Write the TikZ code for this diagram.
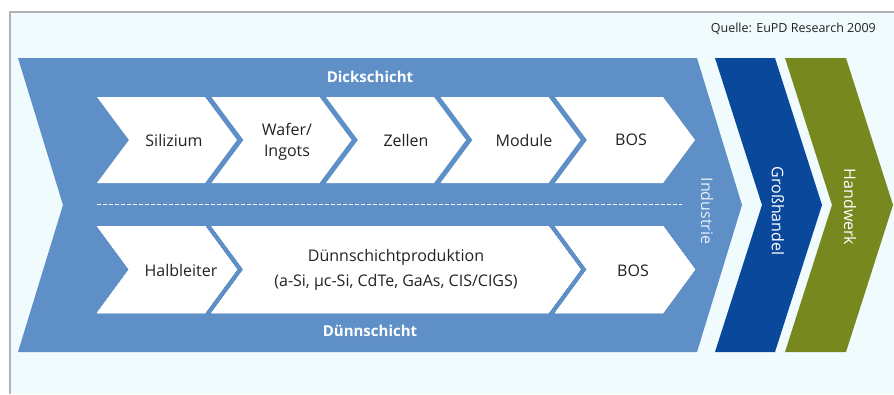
\documentclass[tikz,border=0pt]{standalone}
\usepackage{fontspec}
\setmainfont{Open Sans}
\definecolor{bgcyan}{RGB}{240,251,253}
\definecolor{indblue}{RGB}{94,143,199}
\definecolor{grossblue}{RGB}{10,72,155}
\definecolor{handgreen}{RGB}{118,136,30}
\definecolor{txtgray}{RGB}{35,35,35}
% chevron: x, y, width, height, depth, colour
\newcommand{\chevron}[6]{\fill[#6] (#1,#2) -- ++(#3,0) -- ++(#5,#4/2) -- ++(-#5,#4/2) -- ++(-#3,0) -- ++(#5,-#4/2) -- cycle;}
\begin{document}
\begin{tikzpicture}[x=1pt,y=-1pt,
    lbl/.style={text=txtgray,font=\fontsize{16}{21}\selectfont,align=center,inner sep=0pt},
    band/.style={text=white,font=\fontsize{15}{17}\selectfont\bfseries,inner sep=0pt},
    side/.style={text=white,font=\fontsize{16}{18}\selectfont,rotate=-90,inner sep=0pt}]
    \useasboundingbox (0,0) rectangle (894,394);
    \fill[white] (0,0) rectangle (894,394);
    \fill[bgcyan] (10,12) rectangle (894,394);
    \draw[gray!60,line width=1.5pt] (10,394) -- (10,12) -- (894,12);
    \node[text=txtgray,font=\fontsize{12.5}{14}\selectfont,anchor=east,inner sep=0pt] (quelle) at (876,29) {Quelle: EuPD Research 2009};
    % three big chevrons
    \chevron{18}{58}{679}{294}{45}{indblue}
    \chevron{715}{58}{60}{294}{47}{grossblue}
    \chevron{785}{58}{61}{294}{47}{handgreen}
    % Dickschicht row
    \foreach \s in {97,211.5,326,440.5,555}
        \chevron{\s}{97}{108}{86}{32}{white}
    % Duennschicht row
    \chevron{97}{226}{108}{87}{32}{white}
    \chevron{211.5}{226}{337}{87}{32}{white}
    \chevron{555}{226}{108}{87}{32}{white}
    \draw[white,line width=1pt,dash pattern=on 4pt off 2pt] (97,204) -- (682,204);
    \node[band] (dick) at (370,77) {Dickschicht};
    \node[band] (duenn) at (370,331) {Dünnschicht};
    \node[lbl] (silizium) at (174,140) {Silizium};
    \node[lbl] (wafer) at (287,142) {Wafer/\\Ingots};
    \node[lbl] (zellen) at (406,140) {Zellen};
    \node[lbl] (module) at (524,140) {Module};
    \node[lbl] (bos1) at (631,140) {BOS};
    \node[lbl] (halbleiter) at (181,270) {Halbleiter};
    \node[lbl] (produktion) at (396,270) {Dünnschichtproduktion\\[4pt](a-Si, µc-Si, CdTe, GaAs, CIS/CIGS)};
    \node[lbl] (bos2) at (633,271) {BOS};
    \node[side,text=white!85!indblue] (industrie) at (707,211) {Industrie};
    \node[side] (gross) at (778,211) {Großhandel};
    \node[side] (handwerk) at (850,207) {Handwerk};
\end{tikzpicture}
\end{document}
